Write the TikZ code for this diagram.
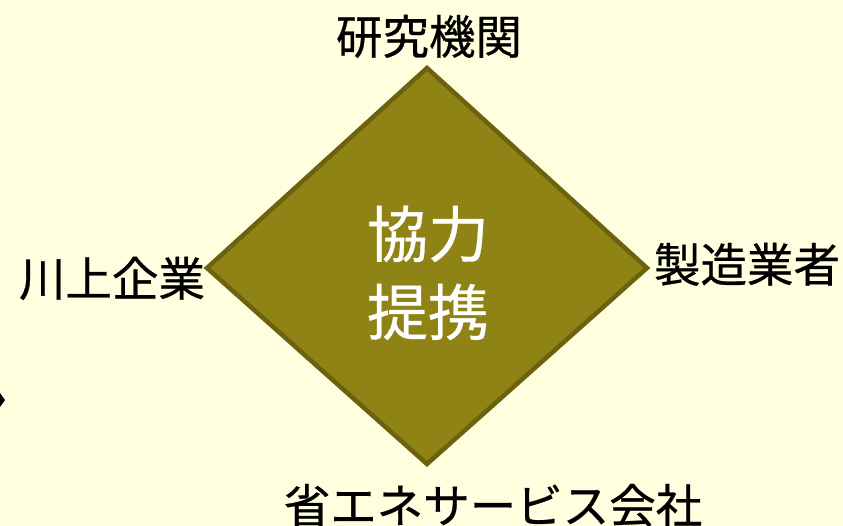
\documentclass[tikz,border=0pt]{standalone}
\usepackage{fontspec}
\setmainfont{Noto Sans CJK JP}
\newfontfamily\boldishcjk[FakeBold=0.6]{Noto Sans CJK JP}
\definecolor{bgc}{HTML}{FFFFE0}
\definecolor{olivefill}{HTML}{8F8316}
\definecolor{oliveedge}{HTML}{6B610E}
\begin{document}
\begin{tikzpicture}[x=1pt,y=-1pt,
  lbl/.style={inner sep=0pt,anchor=base,font=\boldishcjk\fontsize{46.5}{50}\selectfont,text=black},
  ctr/.style={inner sep=0pt,anchor=base,font=\boldishcjk\fontsize{61}{64}\selectfont,text=white}]
\fill[bgc] (0,0) rectangle (843,526);
\useasboundingbox (0,0) rectangle (843,526);
\coordinate (T) at (427,68);
\coordinate (R) at (647,268);
\coordinate (B) at (427,464);
\coordinate (L) at (207,268);
\draw[fill=olivefill,draw=oliveedge,line width=4.5pt,line join=miter] (T) -- (R) -- (B) -- (L) -- cycle;
\node[ctr] (c1) at (428,257) {協力};
\node[ctr] (c2) at (428,335) {提携};
\node[lbl] (top) at (429,54) {研究機関};
\node[lbl] (left) at (112,296) {川上企業};
\node[lbl] (right) at (747,282) {製造業者};
\node[lbl] (bottom) at (493,523) {省エネサービス会社};
\fill[black] (0,393) -- (5,400) -- (0,407) -- cycle;
\end{tikzpicture}
\end{document}
